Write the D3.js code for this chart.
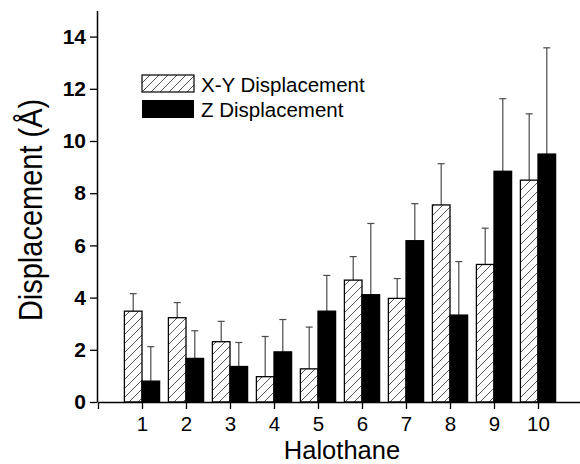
<!DOCTYPE html>
<html>
<head>
<meta charset="utf-8">
<title>Halothane displacement</title>
<script src="https://d3js.org/d3.v7.min.js"></script>
<style>
  body { margin: 0; background: #fff; }
  text { font-family: Arial, "Liberation Sans", sans-serif; }
</style>
</head>
<body>
<div id="chart"></div>
<script>
// data
const halothane = [1, 2, 3, 4, 5, 6, 7, 8, 9, 10];
const xyDisp   = [3.48, 3.23, 2.31, 0.97, 1.27, 4.67, 3.97, 7.55, 5.27, 8.50];
const xyErrTop = [4.15, 3.81, 3.09, 2.51, 2.87, 5.57, 4.73, 9.13, 6.66, 11.04];
const zDisp    = [0.80, 1.67, 1.36, 1.92, 3.48, 4.11, 6.18, 3.33, 8.84, 9.50];
const zErrTop  = [2.12, 2.73, 2.28, 3.16, 4.85, 6.84, 7.60, 5.38, 11.62, 13.57];
const yTicks = [0, 2, 4, 6, 8, 10, 12, 14];
const xTicks = [0, 1, 2, 3, 4, 5, 6, 7, 8, 9, 10];

const W = 580, H = 464;

const svg = d3.select('#chart').append('svg').attr('width', W).attr('height', H);

const defs = svg.append('defs');
const pat = defs.append('pattern').attr('id', 'hatch')
  .attr('patternUnits', 'userSpaceOnUse').attr('width', 9).attr('height', 9);
pat.append('path').attr('d', 'M0,9 L9,0 M-2,2 L2,-2 M7,11 L11,7')
  .attr('stroke', '#444').attr('stroke-width', 0.9);

const x = d3.scaleLinear().domain([0, 11]).range([98, 582]);
const y = d3.scaleLinear().domain([0, 15]).range([402, 10.5]);
const barW = x(0.4) - x(0);

// error bars (upper only)
function errBars(vals, tops, offset) {
  const g = svg.append('g').attr('stroke', '#4a4a4a').attr('stroke-width', 1.2);
  halothane.forEach((h, i) => {
    const cx = x(h) + offset;
    g.append('line').attr('x1', cx).attr('x2', cx).attr('y1', y(vals[i])).attr('y2', y(tops[i]));
    g.append('line').attr('x1', cx - 3.5).attr('x2', cx + 3.5).attr('y1', y(tops[i])).attr('y2', y(tops[i]));
  });
}
errBars(xyDisp, xyErrTop, -barW / 2);
errBars(zDisp, zErrTop, barW / 2);

svg.append('g').selectAll('rect').data(halothane).enter().append('rect')
  .attr('x', d => x(d) - barW).attr('y', (d, i) => y(xyDisp[i]))
  .attr('width', barW).attr('height', (d, i) => y(0) - y(xyDisp[i]))
  .attr('fill', 'url(#hatch)').attr('stroke', '#000').attr('stroke-width', 1.3);

svg.append('g').selectAll('rect').data(halothane).enter().append('rect')
  .attr('x', d => x(d)).attr('y', (d, i) => y(zDisp[i]))
  .attr('width', barW).attr('height', (d, i) => y(0) - y(zDisp[i]))
  .attr('fill', '#000').attr('stroke', '#000').attr('stroke-width', 1.3);

// axes
const xAxis = d3.axisBottom(x).tickValues(xTicks).tickSize(7).tickSizeOuter(0)
  .tickFormat(d => d === 0 ? '' : d);
const gx = svg.append('g').attr('transform', 'translate(0,' + y(0) + ')').call(xAxis);
gx.select('.domain').attr('stroke-width', 1.5);
gx.selectAll('.tick line').attr('stroke-width', 1.3);
gx.selectAll('.tick text').attr('font-size', 20.5).attr('fill', '#000')
  .attr('y', 28.5).attr('dy', 0);

const yAxis = d3.axisLeft(y).tickValues(yTicks).tickSize(7).tickSizeOuter(0);
const gy = svg.append('g').attr('transform', 'translate(97,0)').call(yAxis);
gy.select('.domain').attr('stroke-width', 1.5);
gy.selectAll('.tick line').attr('stroke-width', 1.3);
gy.selectAll('.tick text').attr('font-size', 21).attr('font-weight', 'bold').attr('fill', '#000').attr('x', -11);

// axis titles
svg.append('text').text('Halothane')
  .attr('x', 342).attr('y', 458.5)
  .attr('text-anchor', 'middle').attr('font-size', 25.5);
svg.append('text').text('Displacement (Å)')
  .attr('transform', 'translate(42,210) rotate(-90) scale(1,1.12)')
  .attr('text-anchor', 'middle').attr('font-size', 29);

// legend
const leg = svg.append('g');
leg.append('rect').attr('x', 142).attr('y', 75).attr('width', 52).attr('height', 17)
  .attr('fill', 'url(#hatch)').attr('stroke', '#000').attr('stroke-width', 1.2);
leg.append('rect').attr('x', 142).attr('y', 100).attr('width', 52).attr('height', 18)
  .attr('fill', '#000');
leg.append('text').text('X-Y Displacement').attr('x', 201).attr('y', 92).attr('font-size', 20.5);
leg.append('text').text('Z Displacement').attr('x', 201).attr('y', 117).attr('font-size', 20.5);
</script>
</body>
</html>
